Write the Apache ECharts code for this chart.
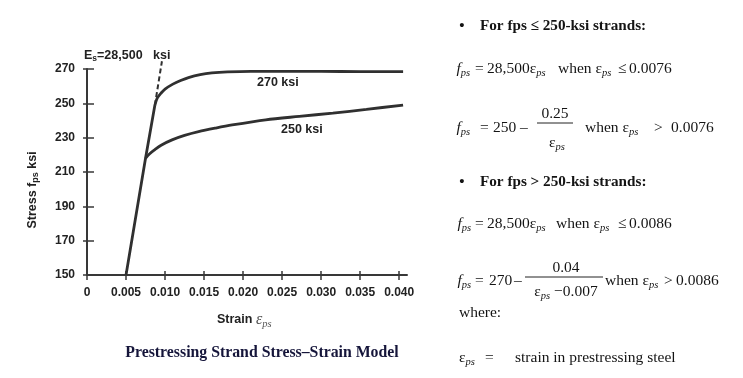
<!DOCTYPE html>
<html><head><meta charset="utf-8">
<script src="https://cdn.jsdelivr.net/npm/echarts@6/dist/echarts.min.js"></script>
<style>html,body{margin:0;padding:0;background:#fff}#c{width:743px;height:378px}</style>
</head><body><div id="c"></div>
<script>
// ---- data ----
const xTicks = [0, 0.005, 0.010, 0.015, 0.020, 0.025, 0.030, 0.035, 0.040];
const xTickLabels = ['0', '0.005', '0.010', '0.015', '0.020', '0.025', '0.030', '0.035', '0.040'];
const yTicks = [150, 170, 190, 210, 230, 250, 270];
const yTickLabels = ['150', '170', '190', '210', '230', '250', '270'];

const elasticStrain = [0.005, 0.0075, 0.0087];
const elasticStress = [150, 218, 249];

const dashStrain = [0.0087, 0.0096];
const dashStress = [249, 274.5];

const strand270Strain = [0.0087, 0.0090, 0.0095, 0.0100, 0.0110, 0.0120, 0.0130, 0.0145, 0.0160, 0.0180, 0.0210, 0.0250, 0.0300, 0.0350, 0.0405];
const strand270Stress = [249, 253, 256, 258.3, 261.2, 263.3, 265, 266.7, 267.7, 268.3, 268.6, 268.6, 268.6, 268.5, 268.5];

const strand250Strain = [0.0075, 0.0080, 0.0087, 0.0095, 0.0109, 0.0125, 0.0143, 0.0165, 0.0186, 0.0229, 0.0272, 0.0315, 0.0358, 0.0405];
const strand250Stress = [218, 220.5, 223, 225.6, 228.7, 231.3, 233.5, 235.6, 237.4, 240.4, 242.4, 244.3, 246.5, 249];

// ---- helpers ----
const zip = (xs, ys) => xs.map((x, i) => [x, ys[i]]);
const lookup = (vals, labels) => v => {
  const i = vals.findIndex(t => Math.abs(t - v) < 1e-9);
  return i >= 0 ? labels[i] : '';
};
const AX = '#383838';
const LINE = '#303030';
const SANS = '"Liberation Sans", Arial, sans-serif';
const SERIF = '"Liberation Serif", "Times New Roman", serif';
const BODY = 15.5;

const chart = echarts.init(document.getElementById('c'), null, {renderer: 'canvas'});

const subSerif = {fontFamily: SERIF, fontStyle: 'italic', fontSize: 10.5, padding: [9, 0, 0, 0]};
const itSerif = {fontFamily: SERIF, fontStyle: 'italic', fontSize: BODY};

function txt(x, y, text, extra) {
  return {
    type: 'text', x: x, y: y, silent: true,
    style: Object.assign({
      text: text, x: 0, y: 0, fill: '#141414',
      fontFamily: SERIF, fontSize: BODY,
      align: 'left', verticalAlign: 'middle',
      rich: {f: itSerif, s: subSerif}
    }, extra || {})
  };
}
function bar(x1, x2, y) {
  return {type: 'line', silent: true, shape: {x1: x1, y1: y, x2: x2, y2: y}, style: {stroke: '#222', lineWidth: 1}};
}
function sansBold(x, y, text, extra) {
  return {type: 'text', x: x, y: y, silent: true, style: Object.assign({text: text, x: 0, y: 0, fill: '#222', fontFamily: SANS, fontWeight: 'bold', fontSize: 12.5, align: 'left', verticalAlign: 'middle'}, extra || {})};
}

const graphics = [
  // chart annotations
  sansBold(84, 56, 'E{sb|s}=28,500', {rich: {sb: {fontFamily: SANS, fontWeight: 'bold', fontSize: 8.5, padding: [6, 0, 0, 0]}}}),
  sansBold(153, 56, 'ksi'),
  sansBold(257, 83, '270 ksi'),
  sansBold(281, 129.5, '250 ksi'),
  // axis titles
  {type: 'text', x: 33, y: 190, rotation: Math.PI / 2, silent: true, style: {text: 'Stress f{sb|ps} ksi', x: 0, y: 0, fill: '#222', fontFamily: SANS, fontWeight: 'bold', fontSize: 12.5, align: 'center', verticalAlign: 'middle',
    rich: {sb: {fontFamily: SANS, fontWeight: 'bold', fontSize: 9, padding: [6, 0, 0, 0]}}}},
  sansBold(217, 320, 'Strain {e|ε}{es|ps}', {rich: {e: {fontFamily: SERIF, fontStyle: 'italic', fontSize: 16, fill: '#555'}, es: {fontFamily: SERIF, fontStyle: 'italic', fontSize: 10.5, fill: '#555', padding: [8, 0, 0, 0]}}}),
  // caption
  {type: 'text', x: 262, y: 353, silent: true, style: {text: 'Prestressing Strand Stress\u2013Strain Model', fill: '#15153a', fontFamily: SERIF, fontWeight: 'bold', fontSize: 15.8, align: 'center', verticalAlign: 'middle'}},

  // right-hand formulas
  txt(462, 26, '\u2022', {fontWeight: 'bold', fontSize: 15, align: 'center'}),
  txt(480, 26, 'For fps \u2264 250-ksi strands:', {fontWeight: 'bold', fontSize: 15.2}),

  txt(456.5, 69, '{f|f}{s|ps}'),
  txt(475, 69, '='),
  txt(487, 69, '28,500\u03b5{s|ps}'),
  txt(558, 69, 'when \u03b5{s|ps}'),
  txt(618, 69, '\u2264'),
  txt(629, 69, '0.0076'),

  txt(456.5, 128, '{f|f}{s|ps}'),
  txt(480, 128, '='),
  txt(493, 128, '250'),
  txt(520, 128, '\u2013'),
  txt(555, 114, '0.25', {align: 'center'}),
  bar(537, 573, 123),
  txt(557, 143, '\u03b5{s|ps}', {align: 'center'}),
  txt(585, 128, 'when \u03b5{s|ps}'),
  txt(654, 128, '>'),
  txt(671, 128, '0.0076'),

  txt(462, 182.5, '\u2022', {fontWeight: 'bold', fontSize: 15, align: 'center'}),
  txt(480, 182.5, 'For fps > 250-ksi strands:', {fontWeight: 'bold', fontSize: 15.2}),

  txt(457.5, 224, '{f|f}{s|ps}'),
  txt(475, 224, '='),
  txt(487, 224, '28,500\u03b5{s|ps}'),
  txt(556, 224, 'when \u03b5{s|ps}'),
  txt(618, 224, '\u2264'),
  txt(629, 224, '0.0086'),

  txt(457.5, 281, '{f|f}{s|ps}'),
  txt(475, 281, '='),
  txt(489, 281, '270'),
  txt(514, 281, '\u2013'),
  txt(566, 268, '0.04', {align: 'center'}),
  bar(525, 603, 277),
  txt(566, 292, '\u03b5{s|ps} \u22120.007', {align: 'center'}),
  txt(605, 281, 'when \u03b5{s|ps}'),
  txt(664, 281, '>'),
  txt(676, 281, '0.0086'),

  txt(459, 313, 'where:'),
  txt(459, 358, '\u03b5{s|ps}'),
  txt(485, 358, '='),
  txt(515, 358, 'strain in prestressing steel')
];

const axisLine = {show: true, onZero: false, lineStyle: {color: AX, width: 2}};
const tickStyle = {color: AX, width: 1.5};

const option = {
  backgroundColor: '#ffffff',
  animation: false,
  grid: {left: 87, right: 336, top: 69, bottom: 103, containLabel: false},
  xAxis: [
    {type: 'value', min: 0, max: 0.041, position: 'bottom',
      axisLine: axisLine,
      axisTick: {show: true, inside: false, length: 5, lineStyle: tickStyle, customValues: xTicks},
      axisLabel: {show: true, customValues: xTicks, formatter: lookup(xTicks, xTickLabels), margin: 12,
        color: '#222', fontFamily: SANS, fontWeight: 'bold', fontSize: 12},
      splitLine: {show: false}},
    {type: 'value', min: 0, max: 0.041, position: 'bottom',
      axisLine: {show: false},
      axisTick: {show: true, inside: true, length: 4, lineStyle: tickStyle, customValues: xTicks.slice(1)},
      axisLabel: {show: false}, splitLine: {show: false}}
  ],
  yAxis: [
    {type: 'value', min: 150, max: 270, position: 'left',
      axisLine: axisLine,
      axisTick: {show: true, inside: false, length: 4, lineStyle: tickStyle, customValues: yTicks},
      axisLabel: {show: true, customValues: yTicks, formatter: lookup(yTicks, yTickLabels), margin: 12,
        color: '#222', fontFamily: SANS, fontWeight: 'bold', fontSize: 12},
      splitLine: {show: false}},
    {type: 'value', min: 150, max: 270, position: 'left',
      axisLine: {show: false},
      axisTick: {show: true, inside: true, length: 7, lineStyle: tickStyle, customValues: yTicks.slice(1)},
      axisLabel: {show: false}, splitLine: {show: false}}
  ],
  series: [
    {type: 'line', name: 'elastic', data: zip(elasticStrain, elasticStress), symbol: 'none',
      lineStyle: {color: LINE, width: 2.8}},
    {type: 'line', name: 'Es', data: zip(dashStrain, dashStress), symbol: 'none', clip: false,
      lineStyle: {color: LINE, width: 2, type: [5, 3]}},
    {type: 'line', name: '270 ksi', data: zip(strand270Strain, strand270Stress), symbol: 'none', smooth: 0.3,
      lineStyle: {color: LINE, width: 2.8}},
    {type: 'line', name: '250 ksi', data: zip(strand250Strain, strand250Stress), symbol: 'none', smooth: 0.3,
      lineStyle: {color: LINE, width: 2.8}}
  ],
  graphic: graphics
};
chart.setOption(option);
</script>
</body></html>
